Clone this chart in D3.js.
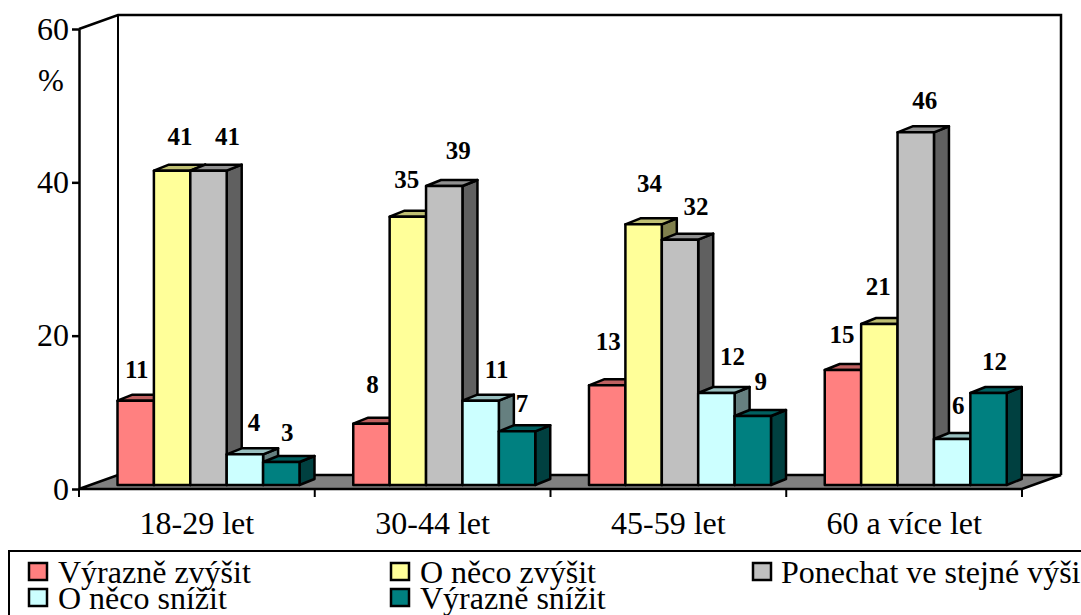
<!DOCTYPE html>
<html>
<head>
<meta charset="utf-8">
<style>
	html, body { margin: 0; padding: 0; background: #fff; overflow: hidden; }
	svg { display: block; }
	text { font-family: "Liberation Serif", serif; fill: #000; }
	.axis text { font-size: 32px; }
	.axis path, .axis line { stroke: #000; stroke-width: 2.5px; }
</style>
<script src="https://d3js.org/d3.v7.min.js"></script>
</head>
<body>
<script>

var categories = ["18-29 let", "30-44 let", "45-59 let", "60 a více let"];
var seriesNames = ["Výrazně zvýšit", "O něco zvýšit", "Ponechat ve stejné výši", "O něco snížit", "Výrazně snížit"];
var vyrazneZvysit = [11, 8, 13, 15];
var oNecoZvysit = [41, 35, 34, 21];
var ponechat = [41, 39, 32, 46];
var oNecoSnizit = [4, 11, 12, 6];
var vyrazneSnizit = [3, 7, 9, 12];
var series = [vyrazneZvysit, oNecoZvysit, ponechat, oNecoSnizit, vyrazneSnizit];
var yTicks = [0, 20, 40, 60];

var colors = ["#ff8080", "#ffff99", "#c0c0c0", "#ccffff", "#008080"];

// the original labels were placed by hand, so each one has its own nudge [dx, dy] (by series, then category)
var labelNudge = [
	[[1, -23], [1, -31], [1, -35], [-1, -27]],
	[[8, -26], [-1, -29], [6, -32], [-1, -29]],
	[[19, -26], [14, -27], [16, -25], [9, -23]],
	[[9, -23], [16, -23], [16, -28], [6, -25]],
	[[6, -21], [5, -19], [8, -26], [6, -23]]
];

var width = 1081,
		height = 615,
		depthX = 39, depthY = 14,      // offset of back wall
		barDepthX = 15, barDepthY = 6,
		barLift = 4;

var svg = d3.select("body").append("svg")
	.attr("width", width)
	.attr("height", height);

var x = d3.scaleBand().domain(categories).range([79, 1022]);
var y = d3.scaleLinear().domain([0, 60]).range([489, 29]);
var inner = d3.scaleBand().domain(d3.range(series.length))
	.range([depthX - 0.5, depthX + 181.5]);

// back wall
svg.append("polyline")
	.attr("points", [[79, y(60)], [79 + depthX, y(60) - depthY], [1022 + depthX, y(60) - depthY], [1022 + depthX, y(0) - depthY]].join(" "))
	.attr("fill", "none")
	.attr("stroke", "#000")
	.attr("stroke-width", 2.5);
svg.append("line")
	.attr("x1", 79 + depthX).attr("x2", 79 + depthX)
	.attr("y1", y(60) - depthY).attr("y2", y(0) - depthY)
	.attr("stroke", "#000")
	.attr("stroke-width", 2);

// floor
svg.append("polygon")
	.attr("points", [[79, y(0)], [79 + depthX, y(0) - depthY], [1022 + depthX, y(0) - depthY], [1022, y(0)]].join(" "))
	.attr("fill", "#808080")
	.attr("stroke", "#000")
	.attr("stroke-width", 2.5);

// axes
svg.append("g")
	.attr("class", "axis")
	.attr("transform", "translate(79,0)")
	.call(d3.axisLeft(y).tickValues(yTicks).tickSize(7).tickSizeOuter(0).tickPadding(3));

svg.append("g")
	.attr("class", "axis")
	.attr("transform", "translate(0," + y(0) + ")")
	.call(d3.axisBottom(x).tickSize(0).tickPadding(22))
	.call(function(g) { g.select(".domain").remove(); });

svg.append("g")
	.selectAll("line")
	.data(categories.concat([null]))
	.enter().append("line")
	.attr("x1", function(d, i) { return 79 + i * x.step(); })
	.attr("x2", function(d, i) { return 79 + i * x.step(); })
	.attr("y1", y(0))
	.attr("y2", y(0) + 8)
	.attr("stroke", "#000")
	.attr("stroke-width", 2);

svg.append("text")
	.attr("x", 51)
	.attr("y", 91)
	.attr("text-anchor", "middle")
	.style("font-size", "31px")
	.text("%");

function shade(color, k) {
	var c = d3.rgb(color);
	return d3.rgb(c.r * k, c.g * k, c.b * k).formatHex();
}

// flatten to one row per bar, drawn left to right so later bars cover earlier sides
var bars = [];
categories.forEach(function(cat, c) {
	series.forEach(function(values, s) {
		bars.push({cat: cat, c: c, s: s, value: values[c]});
	});
});

var bar = svg.append("g").selectAll("g")
	.data(bars)
	.enter().append("g")
	.attr("stroke", "#000")
	.attr("stroke-width", 2.5)
	.attr("stroke-linejoin", "round");

function barLeft(d) { return x(d.cat) + inner(d.s); }
function barRight(d) { return barLeft(d) + inner.bandwidth(); }
function barTop(d) { return y(d.value) - barLift; }
function barBase() { return y(0) - barLift; }

bar.append("polygon") // side
	.attr("fill", function(d) { return shade(colors[d.s], 0.5); })
	.attr("points", function(d) {
		return [[barRight(d), barTop(d)], [barRight(d) + barDepthX, barTop(d) - barDepthY],
			[barRight(d) + barDepthX, barBase() - barDepthY], [barRight(d), barBase()]].join(" ");
	});

bar.append("polygon") // top
	.attr("fill", function(d) { return shade(colors[d.s], 0.75); })
	.attr("points", function(d) {
		return [[barLeft(d), barTop(d)], [barLeft(d) + barDepthX, barTop(d) - barDepthY],
			[barRight(d) + barDepthX, barTop(d) - barDepthY], [barRight(d), barTop(d)]].join(" ");
	});

bar.append("rect") // front
	.attr("fill", function(d) { return colors[d.s]; })
	.attr("x", barLeft)
	.attr("y", barTop)
	.attr("width", inner.bandwidth())
	.attr("height", function(d) { return barBase() - barTop(d); });

// value labels
svg.append("g").selectAll("text")
	.data(bars)
	.enter().append("text")
	.attr("x", function(d) { return barLeft(d) + inner.bandwidth() / 2 + labelNudge[d.s][d.c][0]; })
	.attr("y", function(d) { return barTop(d) + labelNudge[d.s][d.c][1]; })
	.attr("text-anchor", "middle")
	.style("font-size", "25px")
	.style("font-weight", "bold")
	.text(function(d) { return d.value; });

// legend
svg.append("polyline")
	.attr("points", [[9, 615], [9, 551], [1081, 551]].join(" "))
	.attr("fill", "none")
	.attr("stroke", "#000")
	.attr("stroke-width", 2);

var legendX = d3.scaleOrdinal().domain([0, 1, 2]).range([29, 391, 753]);
var legendY = d3.scaleOrdinal().domain([0, 1]).range([563, 589]);

var legend = svg.append("g").selectAll("g")
	.data(seriesNames)
	.enter().append("g")
	.attr("transform", function(d, i) { return "translate(" + legendX(i % 3) + "," + legendY(Math.floor(i / 3)) + ")"; });

legend.append("rect")
	.attr("width", 18)
	.attr("height", 17)
	.attr("fill", function(d, i) { return colors[i]; })
	.attr("stroke", "#000")
	.attr("stroke-width", 2.5);

legend.append("text")
	.attr("x", function(d, i) { return i % 3 === 2 ? 28 : 29; })
	.attr("y", 20)
	.style("font-size", "32px")
	.text(function(d) { return d; });

</script>
</body>
</html>
